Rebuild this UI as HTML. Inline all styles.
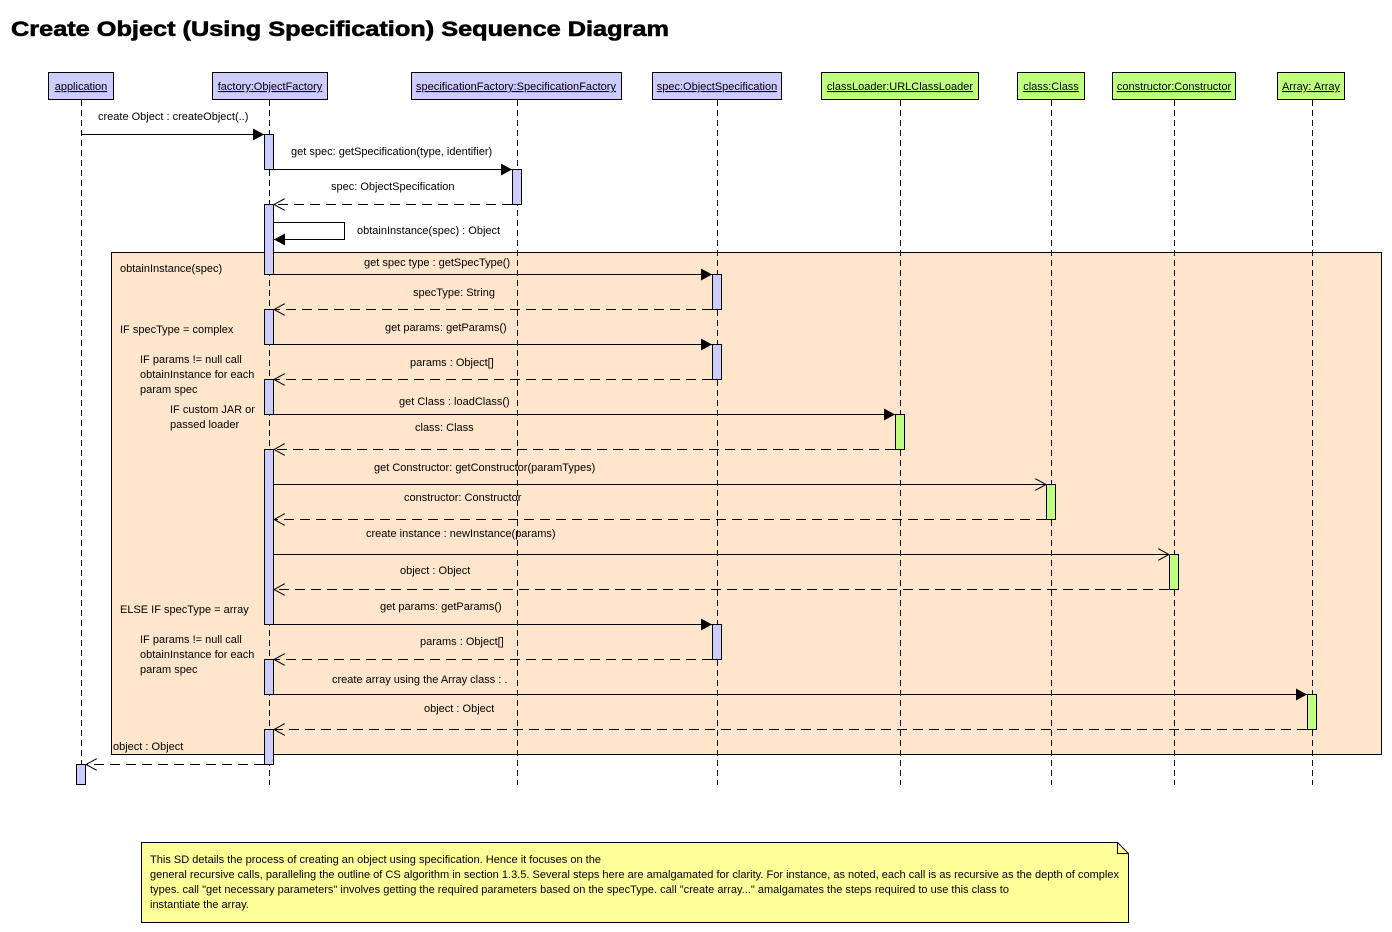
<!DOCTYPE html>
<html><head><meta charset="utf-8"><style>
html,body{margin:0;padding:0;background:#fff}
svg{display:block}
text{font-family:"Liberation Sans",Arial,sans-serif;font-size:11px;fill:#000}
</style></head><body>
<svg width="1392" height="932" viewBox="0 0 1392 932" xmlns="http://www.w3.org/2000/svg">
<defs>
<marker id="f" markerWidth="12" markerHeight="12" refX="11" refY="6" orient="auto" markerUnits="userSpaceOnUse"><path d="M0,0 L11,6 L0,12 z" fill="#000"/></marker>
<marker id="o" markerWidth="12" markerHeight="12" refX="11" refY="6" orient="auto" markerUnits="userSpaceOnUse"><path d="M0,0 L11,6 L0,12" fill="none" stroke="#000"/></marker>
</defs>
<text x="11" y="36" style="font-size:21px;font-weight:bold;stroke:#000;stroke-width:0.6" textLength="658" lengthAdjust="spacingAndGlyphs">Create Object (Using Specification) Sequence Diagram</text>

<rect x="111.5" y="252.5" width="1270" height="502" fill="#fee5cb" stroke="#000"/>

<g stroke="#000" stroke-width="1">
<rect x="48.5" y="72.5" width="65" height="27" fill="#ccccff"/>
<rect x="212.5" y="72.5" width="115" height="27" fill="#ccccff"/>
<rect x="411.5" y="72.5" width="210" height="27" fill="#ccccff"/>
<rect x="652.5" y="72.5" width="129" height="27" fill="#ccccff"/>
<rect x="821.5" y="72.5" width="157" height="27" fill="#c0ff80"/>
<rect x="1017.5" y="72.5" width="67" height="27" fill="#c0ff80"/>
<rect x="1112.5" y="72.5" width="123" height="27" fill="#c0ff80"/>
<rect x="1277.5" y="72.5" width="67" height="27" fill="#c0ff80"/>
</g>
<g text-anchor="middle" text-decoration="underline">
<text x="81" y="90">application</text>
<text x="270" y="90">factory:ObjectFactory</text>
<text x="516" y="90" textLength="200" lengthAdjust="spacingAndGlyphs">specificationFactory:SpecificationFactory</text>
<text x="717" y="90">spec:ObjectSpecification</text>
<text x="900" y="90">classLoader:URLClassLoader</text>
<text x="1051" y="90">class:Class</text>
<text x="1174" y="90">constructor:Constructor</text>
<text x="1311" y="90">Array: Array</text>
</g>

<g stroke="#000" stroke-dasharray="6,4">
<line x1="81.5" y1="100" x2="81.5" y2="785"/>
<line x1="269.5" y1="100" x2="269.5" y2="785"/>
<line x1="517.5" y1="100" x2="517.5" y2="785"/>
<line x1="717.5" y1="100" x2="717.5" y2="785"/>
<line x1="900.5" y1="100" x2="900.5" y2="785"/>
<line x1="1051.5" y1="100" x2="1051.5" y2="785"/>
<line x1="1174.5" y1="100" x2="1174.5" y2="785"/>
<line x1="1312.5" y1="100" x2="1312.5" y2="785"/>
</g>

<g stroke="#000" fill="#ccccff">
<rect x="264.5" y="134.5" width="9" height="35"/>
<rect x="264.5" y="204.5" width="9" height="70"/>
<rect x="264.5" y="309.5" width="9" height="35"/>
<rect x="264.5" y="379.5" width="9" height="35"/>
<rect x="264.5" y="449.5" width="9" height="175"/>
<rect x="264.5" y="659.5" width="9" height="35"/>
<rect x="264.5" y="729.5" width="9" height="35"/>
<rect x="512.5" y="169.5" width="9" height="35"/>
<rect x="712.5" y="274.5" width="9" height="35"/>
<rect x="712.5" y="344.5" width="9" height="35"/>
<rect x="712.5" y="624.5" width="9" height="35"/>
<rect x="76.5" y="764.5" width="9" height="20"/>
</g>
<g stroke="#000" fill="#c0ff80">
<rect x="895.5" y="414.5" width="9" height="35"/>
<rect x="1046.5" y="484.5" width="9" height="35"/>
<rect x="1169.5" y="554.5" width="9" height="35"/>
<rect x="1307.5" y="694.5" width="9" height="35"/>
</g>

<g stroke="#000" fill="none">
<line x1="81" y1="134.5" x2="264" y2="134.5" marker-end="url(#f)"/>
<line x1="274" y1="169.5" x2="512" y2="169.5" marker-end="url(#f)"/>
<polyline points="274,222.5 344.5,222.5 344.5,239.5 274,239.5" marker-end="url(#f)"/>
<line x1="274" y1="274.5" x2="712" y2="274.5" marker-end="url(#f)"/>
<line x1="274" y1="344.5" x2="712" y2="344.5" marker-end="url(#f)"/>
<line x1="274" y1="414.5" x2="895" y2="414.5" marker-end="url(#f)"/>
<line x1="274" y1="484.5" x2="1046" y2="484.5" marker-end="url(#o)"/>
<line x1="274" y1="554.5" x2="1169" y2="554.5" marker-end="url(#o)"/>
<line x1="274" y1="624.5" x2="712" y2="624.5" marker-end="url(#f)"/>
<line x1="274" y1="694.5" x2="1307" y2="694.5" marker-end="url(#f)"/>
</g>
<g stroke="#000" fill="none" stroke-dasharray="10,6">
<line x1="512" y1="204.5" x2="274" y2="204.5" marker-end="url(#o)"/>
<line x1="712" y1="309.5" x2="274" y2="309.5" marker-end="url(#o)"/>
<line x1="712" y1="379.5" x2="274" y2="379.5" marker-end="url(#o)"/>
<line x1="895" y1="449.5" x2="274" y2="449.5" marker-end="url(#o)"/>
<line x1="1046" y1="519.5" x2="274" y2="519.5" marker-end="url(#o)"/>
<line x1="1169" y1="589.5" x2="274" y2="589.5" marker-end="url(#o)"/>
<line x1="712" y1="659.5" x2="274" y2="659.5" marker-end="url(#o)"/>
<line x1="1307" y1="729.5" x2="274" y2="729.5" marker-end="url(#o)"/>
<line x1="264" y1="764.5" x2="86" y2="764.5" marker-end="url(#o)"/>
</g>

<g dominant-baseline="central">
<text x="98" y="117">create Object : createObject(..)</text>
<text x="291" y="152">get spec: getSpecification(type, identifier)</text>
<text x="331" y="187">spec: ObjectSpecification</text>
<text x="357" y="231">obtainInstance(spec) : Object</text>
<text x="364" y="263">get spec type : getSpecType()</text>
<text x="413" y="293">specType: String</text>
<text x="385" y="328">get params: getParams()</text>
<text x="410" y="363">params : Object[]</text>
<text x="399" y="402">get Class : loadClass()</text>
<text x="415" y="428">class: Class</text>
<text x="374" y="468">get Constructor: getConstructor(paramTypes)</text>
<text x="404" y="498">constructor: Constructor</text>
<text x="366" y="534">create instance : newInstance(params)</text>
<text x="400" y="571">object : Object</text>
<text x="380" y="607">get params: getParams()</text>
<text x="420" y="642">params : Object[]</text>
<text x="332" y="680">create array using the Array class : .</text>
<text x="424" y="709">object : Object</text>
<text x="113" y="747">object : Object</text>
<text x="120" y="269">obtainInstance(spec)</text>
<text x="120" y="330">IF  specType = complex</text>
<text x="140" y="360">IF params != null call</text>
<text x="140" y="375">obtainInstance for each</text>
<text x="140" y="390">param spec</text>
<text x="170" y="410">IF custom JAR or</text>
<text x="170" y="425">passed loader</text>
<text x="120" y="610">ELSE IF  specType = array</text>
<text x="140" y="640">IF params != null call</text>
<text x="140" y="655">obtainInstance for each</text>
<text x="140" y="670">param spec</text>
</g>

<path d="M141.5,842.5 L1117.5,842.5 L1128.5,853.5 L1128.5,922.5 L141.5,922.5 z" fill="#ffff99" stroke="#000"/>
<path d="M1117.5,842.5 L1117.5,853.5 L1128.5,853.5" fill="none" stroke="#000"/>
<g dominant-baseline="central" style="font-size:10.8px">
<text x="150" y="860" textLength="451" lengthAdjust="spacingAndGlyphs">This SD details the process of creating an object using specification. Hence it focuses on the</text>
<text x="150" y="875" textLength="969" lengthAdjust="spacingAndGlyphs">general recursive calls, paralleling the outline of CS algorithm in section 1.3.5. Several steps here are amalgamated for clarity. For instance, as noted, each call is as recursive as the depth of complex</text>
<text x="150" y="890" textLength="859" lengthAdjust="spacingAndGlyphs">types. call "get necessary parameters" involves getting the required parameters based on the specType. call "create array..." amalgamates the steps required to use this class to</text>
<text x="150" y="905">instantiate the array.</text>
</g>
</svg>
</body></html>
